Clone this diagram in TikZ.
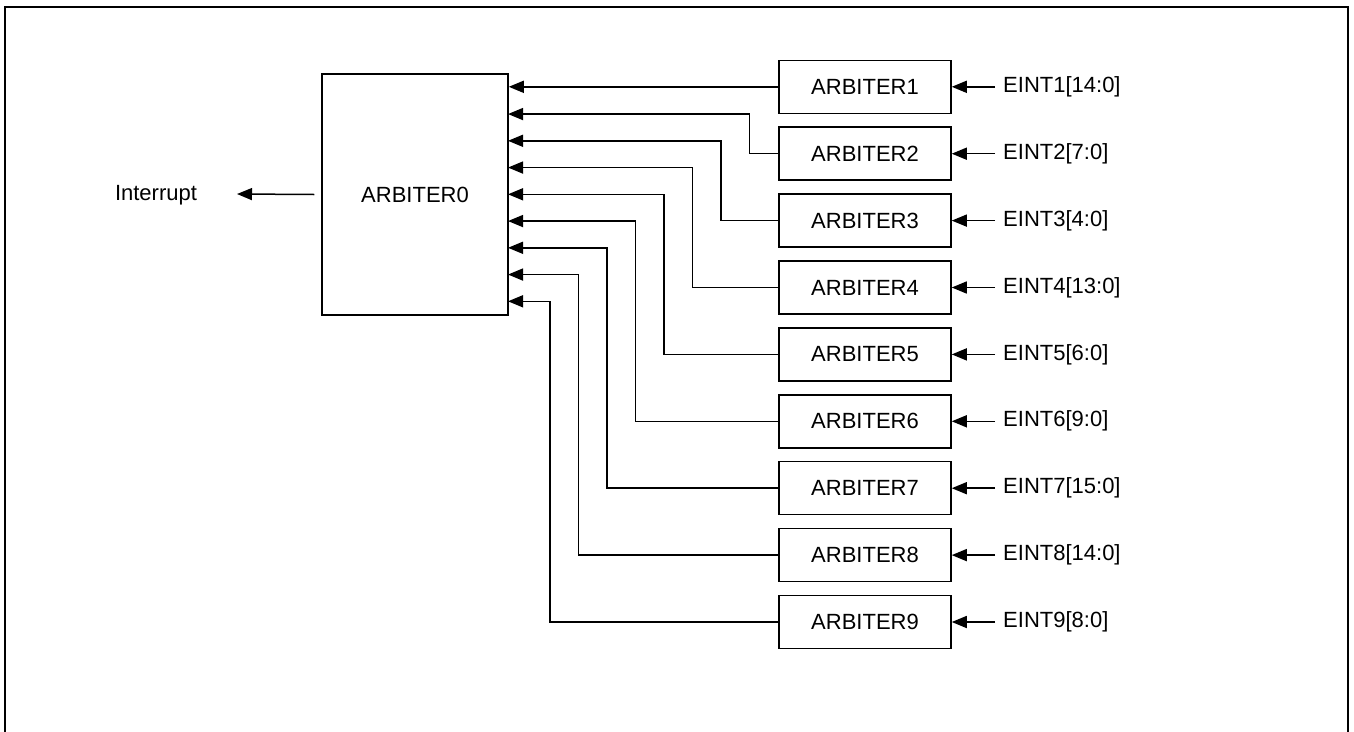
\documentclass[tikz,border=0pt]{standalone}
\usepackage{fontspec}
\setmainfont{Liberation Sans}
\usetikzlibrary{arrows.meta,calc}
\begin{document}
\begin{tikzpicture}[x=1pt,y=-1pt,
  font=\fontsize{22}{26}\selectfont,
  blk/.style={draw,line width=1.5pt,inner sep=0pt},
  arbbox/.style={blk,minimum width=172pt,minimum height=53pt},
  arr/.style={line width=1.5pt,-{Triangle[length=15pt,width=12pt]}},
  lbl/.style={inner sep=0pt}]
\useasboundingbox (0,0) rectangle (1354,731);
\draw[line width=2.8pt] (5,740) -- (5,7) -- (1348,7) -- (1348,740);
\node[blk,minimum width=186pt,minimum height=241pt] (a0) at (415,194.5) {ARBITER0};
\node[lbl] (int) at (156,195) {Interrupt};
\coordinate (intt) at (237,194);
\draw[arr] ([xshift=-7pt]a0.west) -- (intt);
\foreach \i/\t in {1/{EINT1[14:0]},2/{EINT2[7:0]},3/{EINT3[4:0]},4/{EINT4[13:0]},5/{EINT5[6:0]},6/{EINT6[9:0]},7/{EINT7[15:0]},8/{EINT8[14:0]},9/{EINT9[8:0]}}{
  \node[arbbox] (a\i) at (865,{86.8+(\i-1)*66.9}) {ARBITER\i};
  \node[lbl,anchor=west] (e\i) at (1003,{86.8+(\i-1)*66.9}) {\t};
  \draw[arr] ([xshift=-8pt]e\i.west) -- (a\i.east);
  \coordinate (p\i) at (508,{87.3+(\i-1)*26.75});
}
\draw[arr] (a1.west) -- (a1.west -| a0.east);
\foreach \i in {2,...,9}{
  \draw[arr] (a\i.west) -- ++({-28.55*(\i-1)},0) |- (p\i);
}
\end{tikzpicture}
\end{document}
